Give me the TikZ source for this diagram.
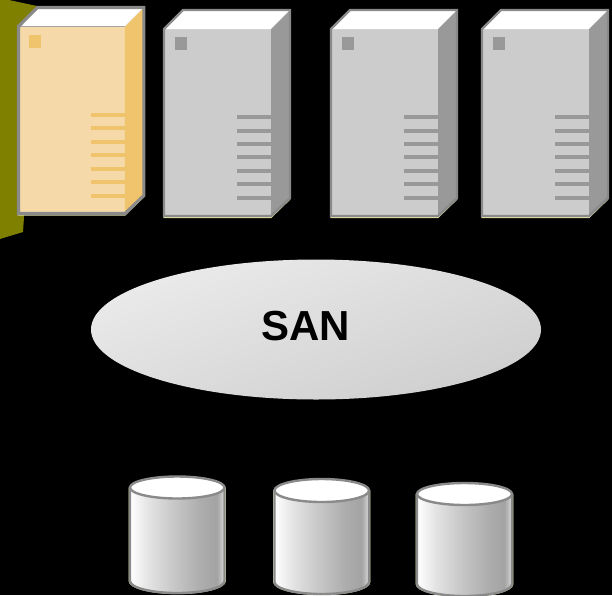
\documentclass[tikz,border=0pt]{standalone}
\usepackage{fontspec}
\setmainfont{Liberation Sans}
\definecolor{olivebg}{HTML}{7F7F00}
\definecolor{edgegrey}{HTML}{8A8A8A}
\definecolor{fringe}{HTML}{E4E4A8}
\definecolor{srvfront}{HTML}{CCCCCC}
\definecolor{srvside}{HTML}{999999}
\definecolor{hlfront}{HTML}{F5D9A8}
\definecolor{hlside}{HTML}{F0C36D}
\pgfdeclarehorizontalshading{cylshade}{100bp}{
  color(0bp)=(white); color(25bp)=(white); color(35bp)=(black!11); color(47bp)=(black!21); color(62bp)=(black!32);
  color(71bp)=(black!36); color(73bp)=(black!26); color(75bp)=(black!10); color(100bp)=(black!10)}
\tikzset{
  x=1pt,y=-1pt,
  outline/.style={draw=edgegrey,line width=2.4pt,line join=miter},
  fringeline/.style={draw=fringe,line width=1.2pt},
  cylbody/.style={shading=cylshade,draw=edgegrey,line width=2.4pt},
  cyltop/.style={fill=white,draw=edgegrey,line width=2.4pt},
  sanlabel/.style={font=\bfseries\fontsize{42}{42}\selectfont,text=black,inner sep=0pt},
}
% #1 x-left, #2 y-top of front, #3 front colour, #4 side colour, #5 x-scale, #6 outline width
\newcommand{\srv}[6]{%
  \begin{scope}[shift={(#1,#2)},xscale=#5]
    \draw[fringeline] (0,-1) -- (0,188.5) -- (107,188.5) -- (126,170);
    \fill[#3] (0,0) rectangle (107,187);
    \fill[#4] (107,0) -- (126,-19) -- (126,169) -- (107,187) -- cycle;
    \fill[white] (0,0) -- (19,-19) -- (126,-19) -- (107,0) -- cycle;
    \fill[#4] (11,8) rectangle (23,21);
    \foreach \v in {86,99.5,113,126,140,153,167}
      \fill[#4] (73,\v) rectangle (107,\v+4.4);
    \draw[outline,line width=#6] (0,0) -- (19,-19) -- (126,-19) -- (126,169) -- (107,187) -- (0,187) -- cycle;
  \end{scope}}
% #1 left, #2 right, #3 top centre y, #4 top ry, #5 side bottom y
\newcommand{\cyl}[5]{%
  \draw[fringeline] (#1-0.8,#3) -- (#1-0.8,#5) arc[start angle=180,end angle=0,x radius={(#2-#1)/2+0.8},y radius=12.5] -- (#2+0.8,#3);
  \path[cylbody] (#1,#3) -- (#1,#5) arc[start angle=180,end angle=0,x radius={(#2-#1)/2},y radius=12] -- (#2,#3) -- cycle;
  \path[cyltop] ({(#1+#2)/2},#3) ellipse[x radius={(#2-#1)/2},y radius=#4];}
\begin{document}
\begin{tikzpicture}
\useasboundingbox (0,0) rectangle (612,595);
\fill[black] (0,0) rectangle (612,595);
\fill[olivebg] (0,0) -- (9,0) -- (37,6) -- (19,26) -- (24,217) -- (23,232) -- (0,239) -- cycle;
\srv{18.5}{26.5}{hlfront}{hlside}{0.995}{3.2pt}
\srv{164}{29}{srvfront}{srvside}{1}{2.4pt}
\srv{331}{29}{srvfront}{srvside}{1}{2.4pt}
\srv{482}{29}{srvfront}{srvside}{1}{2.4pt}
\shade[top color=black!8,bottom color=black!19,shading angle=20]
  (316,329.5) ellipse[x radius=225,y radius=70];
\node[sanlabel] (san) at (305.5,326) {SAN};
\cyl{130}{224.5}{487.5}{11}{581}
\cyl{274.5}{369}{490.5}{11.5}{582}
\cyl{417}{512}{494}{11}{584}
\end{tikzpicture}
\end{document}
